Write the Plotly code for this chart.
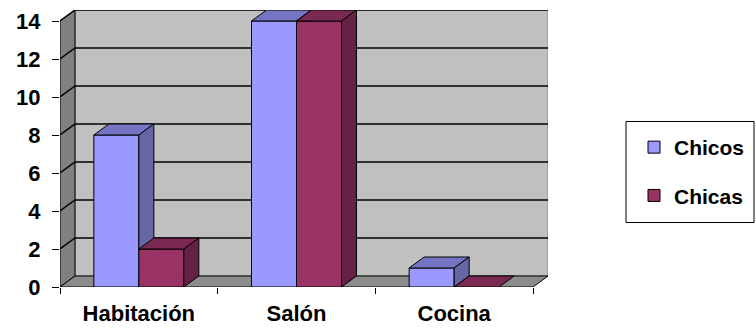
import plotly.graph_objects as go

# ---------------- data ----------------
categories = ["Habitación", "Salón", "Cocina"]
chicos = [8, 14, 1]
chicas = [2, 14, 0]
y_ticks = [0, 2, 4, 6, 8, 10, 12, 14]
series_names = ["Chicos", "Chicas"]

# ---------------- styles ----------------
W, H = 756, 329
ML, MR, MT, MB = 60, 208, 10, 42
PLOT_W = W - ML - MR
PLOT_H = H - MT - MB
DEPTH_PX, DEPTH_PY = 15, 11          # 3D depth offset in pixels
NCAT = len(categories)
YMAX = max(y_ticks)
DX = DEPTH_PX * NCAT / (PLOT_W - DEPTH_PX)
DY = DEPTH_PY * YMAX / (PLOT_H - DEPTH_PY)
BW = 45 / (PLOT_W / (NCAT + DX))      # bar width in category units

front = ["#9999FF", "#993366"]
topc = ["#7474C2", "#7A2952"]
sidec = ["#6666A6", "#662244"]
FONT = dict(family="Liberation Sans", size=22, color="black", weight=700)
LFONT = dict(family="Liberation Sans", size=21, color="black", weight=700)

fig = go.Figure()

# front faces as real bars
centers = [i + 0.5 for i in range(NCAT)]
for k, (name, vals) in enumerate(zip(series_names, [chicos, chicas])):
    fig.add_trace(go.Bar(
        x=centers, y=vals, name=name, width=BW,
        offset=-BW if k == 0 else 0,
        marker=dict(color=front[k], line=dict(color="black", width=1)),
        legendgroup=name, hoverinfo="skip",
    ))


def poly(xs, ys, color):
    fig.add_trace(go.Scatter(
        x=xs + [xs[0]], y=ys + [ys[0]], mode="lines", fill="toself",
        fillcolor=color, line=dict(color="black", width=1),
        showlegend=False, hoverinfo="skip"))


# tops and sides
for i, c in enumerate(centers):
    v1, v2 = chicos[i], chicas[i]
    # Chicos
    x0, x1 = c - BW, c
    poly([x0, x1, x1 + DX, x0 + DX], [v1, v1, v1 + DY, v1 + DY], topc[0])
    lo = max(0, v2)
    if lo <= v1:
        lo_r = max(DY, lo)
        poly([x1, x1, x1 + DX, x1 + DX], [lo, v1, v1 + DY, lo_r], sidec[0])
    # Chicas
    x0, x1 = c, c + BW
    poly([x0, x1, x1 + DX, x0 + DX], [v2, v2, v2 + DY, v2 + DY], topc[1])
    if v2 > 0:
        poly([x1, x1, x1 + DX, x1 + DX], [0, v2, v2 + DY, DY], sidec[1])

# walls, floor and gridlines (below traces)
shapes = []
def path(pts):
    return "M" + "L".join(f"{x},{y}" for x, y in pts) + "Z"

shapes.append(dict(type="path", xref="x", yref="y", layer="below",
                   path=path([(DX, DY), (NCAT + DX, DY), (NCAT + DX, YMAX + DY), (DX, YMAX + DY)]),
                   fillcolor="#C0C0C0", line=dict(color="#808080", width=1)))
shapes.append(dict(type="path", xref="x", yref="y", layer="below",
                   path=path([(0, 0), (DX, DY), (DX, YMAX + DY), (0, YMAX)]),
                   fillcolor="#808080", line=dict(color="black", width=1)))
shapes.append(dict(type="path", xref="x", yref="y", layer="below",
                   path=path([(0, 0), (NCAT, 0), (NCAT + DX, DY), (DX, DY)]),
                   fillcolor="#8C8C8C", line=dict(color="black", width=1)))
for t in y_ticks[1:]:
    shapes.append(dict(type="path", xref="x", yref="y", layer="below",
                       path=f"M0,{t}L{DX},{t + DY}L{NCAT + DX},{t + DY}",
                       line=dict(color="black", width=1.5)))
# legend box
shapes.append(dict(type="rect", xref="paper", yref="paper",
                   x0=(626 - ML) / PLOT_W, x1=(754 - ML) / PLOT_W,
                   y0=(H - MB - 222.5) / PLOT_H, y1=(H - MB - 121.5) / PLOT_H,
                   line=dict(color="black", width=1), fillcolor="rgba(0,0,0,0)"))

fig.update_layout(
    template="none",
    width=W, height=H,
    margin=dict(l=ML, r=MR, t=MT, b=MB, pad=0, autoexpand=False),
    paper_bgcolor="white", plot_bgcolor="white",
    barmode="overlay",
    shapes=shapes,
    font=FONT,
    showlegend=True,
    legend=dict(
        x=(634 - ML) / PLOT_W, y=(H - MB - 127) / PLOT_H,
        xanchor="left", yanchor="top",
        bgcolor="rgba(0,0,0,0)", borderwidth=0,
        traceorder="grouped", tracegroupgap=18,
        font=LFONT,
    ),
    xaxis=dict(
        range=[0, NCAT + DX], showgrid=False, zeroline=False, showline=False,
        tickmode="array", tickvals=centers, ticktext=categories, ticks="",
        tickfont=FONT, ticklabelstandoff=11,
        minor=dict(tickmode="linear", tick0=0, dtick=1, ticks="outside",
                   ticklen=6, tickcolor="black", tickwidth=1, showgrid=False),
        fixedrange=True,
    ),
    yaxis=dict(
        range=[0, YMAX + DY], showgrid=False, zeroline=False, showline=False,
        tickmode="array", tickvals=y_ticks, ticks="outside", ticklen=7,
        tickcolor="black", tickwidth=1, tickfont=FONT, ticklabelstandoff=7,
        fixedrange=True,
    ),
)

fig.write_html("out.html")
